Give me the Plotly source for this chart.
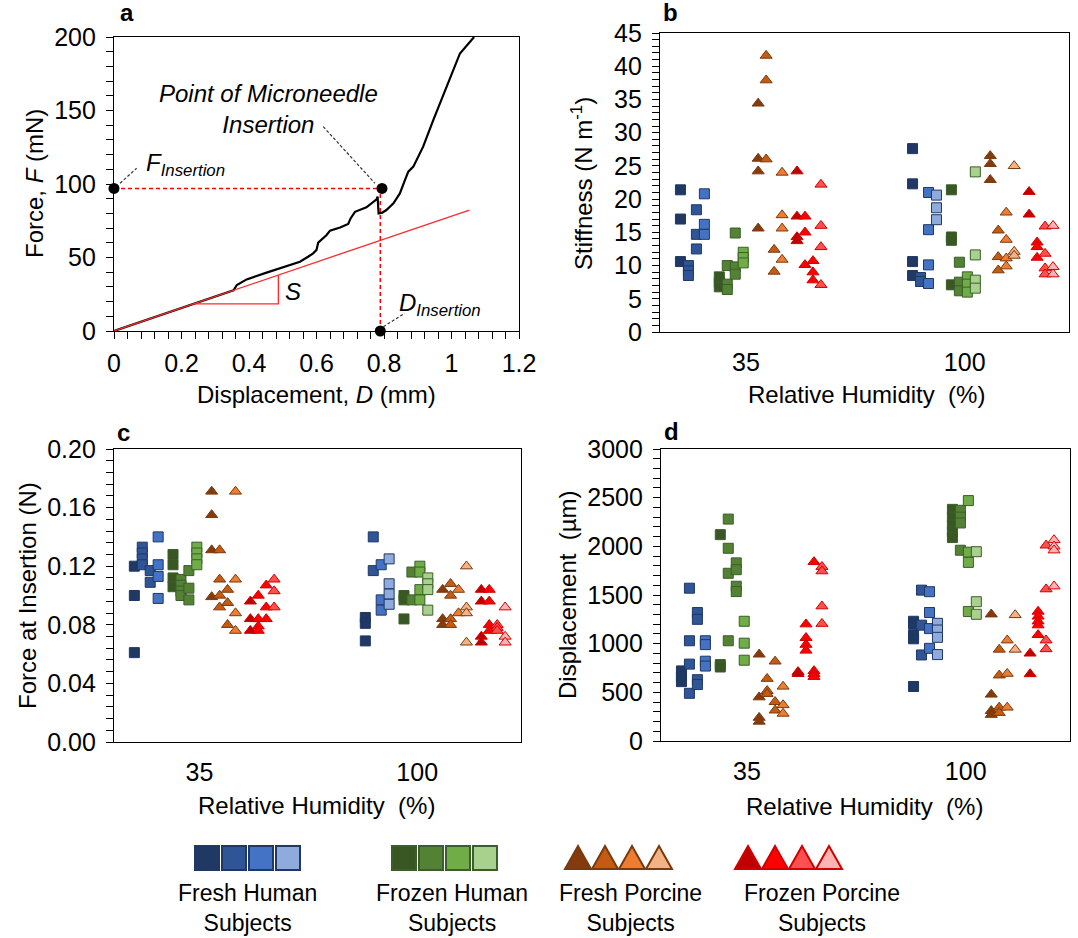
import plotly.graph_objects as go

FONT = "Arial, 'Liberation Sans', sans-serif"
FS = 24

# ---------------- Panel a : force-displacement curve ----------------
CURVE_D = [0.000, 0.354, 0.364, 0.393, 0.452, 0.512, 0.551, 0.575, 0.590, 0.600, 0.605,
           0.630, 0.640, 0.670, 0.694, 0.701, 0.714, 0.748, 0.778, 0.781, 0.784, 0.795,
           0.807, 0.828, 0.847, 0.862, 0.872, 0.887, 0.916, 0.946, 0.986, 1.025, 1.067]
CURVE_F = [0.0, 27.7, 31.3, 35.1, 39.7, 44.2, 47.1, 50.5, 52.8, 55.1, 60.1,
           65.3, 68.3, 70.4, 72.8, 76.6, 81.1, 84.1, 89.6, 91.4, 80.0, 80.5,
           82.3, 86.8, 93.6, 102.7, 108.4, 111.8, 125.4, 143.5, 166.2, 188.8, 200.0]
FIT_D = [0.0, 1.053]
FIT_F = [0.0, 82.3]
SLOPE_TRI_D = [0.235, 0.487, 0.487]
SLOPE_TRI_F = [18.4, 18.4, 38.1]
D_INSERTION = 0.789
F_INSERTION = 97.0

# ---------------- Panels b-d : scatter data ----------------
GROUPS = ["Fresh Human", "Frozen Human", "Fresh Porcine", "Frozen Porcine"]
RH_LABELS = ["35", "100"]

STIFFNESS_35 = {
    "Fresh Human": [[21.4, 17.0, 10.6], [10.0, 9.2, 8.5], [18.4, 14.7, 12.5], [20.8, 16.2, 14.7]],
    "Frozen Human": [[8.3, 7.5, 6.8], [10.0, 7.2, 6.4], [14.9, 9.8, 8.7], [12.0, 11.2, 10.4]],
    "Fresh Porcine": [[34.4, 26.1, 24.2, 15.6], [41.6, 37.9, 26.0], [12.4, 9.1], [24.0, 17.6, 15.6, 10.9]],
    "Frozen Porcine": [[24.2, 17.4, 14.3, 13.7], [17.4, 15.0, 10.1], [10.7, 9.0, 7.8], [22.2, 16.0, 12.8, 7.1]],
}
STIFFNESS_100 = {
    "Fresh Human": [[27.6, 22.3, 10.6, 8.5], [8.2, 7.6], [21.0, 15.4, 10.1, 7.3], [20.6, 18.7, 16.9]],
    "Frozen Human": [[21.4, 14.3, 13.8, 7.1], [10.5, 7.5, 6.2], [8.3, 7.2, 6.0], [24.1, 11.6, 7.8, 6.6]],
    "Fresh Porcine": [[26.5, 25.3, 22.9], [15.3, 11.3, 9.3], [18.0, 13.9, 11.1, 9.9], [25.0, 12.1, 11.5]],
    "Frozen Porcine": [[21.1, 17.7], [13.5, 12.8, 11.2], [15.9, 11.8, 9.6, 8.7], [16.0, 9.8, 8.7]],
}
FORCE_35 = {
    "Fresh Human": [[0.120, 0.100, 0.061], [0.133, 0.129, 0.125, 0.121], [0.117, 0.109], [0.140, 0.121, 0.113, 0.098]],
    "Frozen Human": [[0.128, 0.121, 0.112, 0.106], [0.111, 0.107, 0.103, 0.100], [0.117, 0.105, 0.097], [0.133, 0.129, 0.125, 0.121]],
    "Fresh Porcine": [[0.171, 0.155, 0.131, 0.099], [0.131, 0.111, 0.100, 0.092], [0.104, 0.095, 0.080], [0.171, 0.111, 0.088, 0.076]],
    "Frozen Porcine": [[0.096, 0.084, 0.076], [0.100, 0.084, 0.079, 0.076], [0.107, 0.092, 0.084], [0.111, 0.103, 0.092]],
}
FORCE_100 = {
    "Fresh Human": [[0.085, 0.081, 0.069], [0.140, 0.117], [0.121, 0.097, 0.090], [0.125, 0.108, 0.101, 0.094]],
    "Frozen Human": [[0.100, 0.097, 0.084], [0.116, 0.097], [0.120, 0.116, 0.104, 0.097], [0.112, 0.108, 0.104, 0.090]],
    "Fresh Porcine": [[0.104, 0.084, 0.080], [0.108, 0.100, 0.084, 0.080], [0.104, 0.088], [0.120, 0.092, 0.088, 0.068]],
    "Frozen Porcine": [[0.104, 0.096, 0.072, 0.068], [0.104, 0.096, 0.080, 0.076], [0.080, 0.078, 0.076], [0.092, 0.072, 0.068]],
}
DISP_35 = {
    "Fresh Human": [[720, 660, 610], [1570, 1030, 790, 490], [1320, 1250, 630, 580], [1030, 990, 820, 770]],
    "Frozen Human": [[2120, 785, 760], [2280, 1980, 1723, 1030], [1830, 1760, 1590, 1535], [1230, 1005, 830]],
    "Fresh Porcine": [[890, 450, 240, 200], [640, 515, 485], [818, 402, 315], [560, 370, 282]],
    "Frozen Porcine": [[710, 690], [1200, 1060, 990, 930], [1840, 720, 690, 660], [1790, 1745, 1385, 1205]],
}
DISP_100 = {
    "Fresh Human": [[1230, 1200, 1090, 1050, 560], [1550, 1190, 884], [1534, 1320, 1155, 952], [1209, 1140, 1065, 888]],
    "Frozen Human": [[2380, 2300, 2220, 2150, 2090], [2370, 2300, 2240, 1960], [2470, 1940, 1835, 1330], [1945, 1431, 1302]],
    "Fresh Porcine": [[1302, 478, 310, 270], [940, 675, 345, 290], [1035, 692, 345], [1295, 940]],
    "Frozen Porcine": [[900, 688], [1330, 1280, 1230, 1190, 1090], [2010, 1560, 1035, 945], [2065, 2000, 1960, 1590]],
}

# ---------------- styling ----------------
SYMBOLS = ["square", "square", "triangle-up", "triangle-up"]
FILLS = [["#203864", "#2F5597", "#4472C4", "#8FAADC"],
         ["#385723", "#548235", "#70AD47", "#A9D18E"],
         ["#843C0C", "#C55A11", "#ED7D31", "#F4B183"],
         ["#C00000", "#FF0000", "#FF5050", "#FFB3B3"]]
EDGES = ["#1F3864", "#3B5E2A", "#7A3A10", "#D00000"]
SHADES = [[0, 1, 1, 2], [0, 1, 2, 3]]          # colour index of each subject column, per RH
BASE = [0.10, 1.235]                          # position of first column in each RH group
GROUP_STEP = 0.19
SUBJ_STEP = 0.039
TICK_POS = [0.42, 1.49]

W, H = 1078, 938


def px(x):
    return x / W


def py(y):
    return 1 - y / H


fig = go.Figure()

# ---- panel a ----
fig.add_trace(go.Scatter(x=[0, D_INSERTION], y=[F_INSERTION, F_INSERTION], mode="lines",
                         line=dict(color="#FF0000", width=1.5, dash="4px,3px"),
                         xaxis="x", yaxis="y", showlegend=False, hoverinfo="skip"))
fig.add_trace(go.Scatter(x=[D_INSERTION, D_INSERTION], y=[0, F_INSERTION], mode="lines",
                         line=dict(color="#FF0000", width=1.5, dash="4px,3px"),
                         xaxis="x", yaxis="y", showlegend=False, hoverinfo="skip"))
fig.add_trace(go.Scatter(x=CURVE_D, y=CURVE_F, mode="lines", line=dict(color="black", width=2.2),
                         xaxis="x", yaxis="y", showlegend=False))
fig.add_trace(go.Scatter(x=FIT_D, y=FIT_F, mode="lines", line=dict(color="#FF2A2A", width=1.3),
                         xaxis="x", yaxis="y", showlegend=False))
fig.add_trace(go.Scatter(x=SLOPE_TRI_D, y=SLOPE_TRI_F, mode="lines", line=dict(color="#FF2A2A", width=1.3),
                         xaxis="x", yaxis="y", showlegend=False))
fig.add_trace(go.Scatter(x=[0, D_INSERTION + 0.005, D_INSERTION], y=[F_INSERTION, F_INSERTION, 0],
                         mode="markers", marker=dict(color="black", size=11),
                         xaxis="x", yaxis="y", showlegend=False, cliponaxis=False))

# ---- panels b-d ----
PANELS = [("x2", "y2", [STIFFNESS_35, STIFFNESS_100]),
          ("x3", "y3", [FORCE_35, FORCE_100]),
          ("x4", "y4", [DISP_35, DISP_100])]
for xa, ya, datasets in PANELS:
    for r, data in enumerate(datasets):
        for g, grp in enumerate(GROUPS):
            xs, ys, cols = [], [], []
            for s, vals in enumerate(data[grp]):
                for v in vals:
                    xs.append(BASE[r] + g * GROUP_STEP + s * SUBJ_STEP)
                    ys.append(v)
                    cols.append(FILLS[g][SHADES[r][s]])
            fig.add_trace(go.Scatter(
                x=xs, y=ys, mode="markers", name=grp,
                marker=dict(symbol=SYMBOLS[g], size=10 if g < 2 else 10.5, color=cols,
                            line=dict(color=EDGES[g], width=1)),
                xaxis=xa, yaxis=ya, showlegend=False, cliponaxis=False))


def yaxis(domain, rng, dtick, minor, anchor, fmt=None):
    d = dict(domain=domain, range=rng, dtick=dtick, tick0=0, ticks="outside", ticklen=7,
             tickwidth=1, tickcolor="black", showline=True, linecolor="black", linewidth=1.2,
             mirror=True, showgrid=False, zeroline=False, anchor=anchor, automargin=False,
             tickfont=dict(family=FONT, size=FS + 1, color="black"), ticklabelstandoff=5,
             minor=dict(dtick=minor, tick0=0, ticks="outside", ticklen=7, tickcolor="black", showgrid=False))
    if fmt:
        d["tickformat"] = fmt
    return d


def cat_xaxis(domain, anchor):
    return dict(domain=domain, range=[0, 2], tickvals=TICK_POS, ticktext=RH_LABELS, ticks="",
                showline=True, linecolor="black", linewidth=1.2, mirror=True, showgrid=False,
                zeroline=False, anchor=anchor, ticklabelstandoff=8, automargin=False,
                tickfont=dict(family=FONT, size=FS + 1, color="black"))


layout = dict(
    width=W, height=H, margin=dict(l=0, r=0, t=0, b=0, pad=0, autoexpand=False),
    autosize=False, showlegend=False,
    paper_bgcolor="white", plot_bgcolor="white", font=dict(family=FONT, color="black"),
    xaxis=dict(domain=[px(114), px(519)], range=[0, 1.2], dtick=0.2, tick0=0, ticks="outside",
               ticklen=7, tickcolor="black", showline=True, linecolor="black", linewidth=1.2,
               mirror=True, showgrid=False, zeroline=False, anchor="y", ticklabelstandoff=3,
               automargin=False,
               tickfont=dict(family=FONT, size=FS + 1, color="black"),
               minor=dict(dtick=0.04, tick0=0, ticks="outside", ticklen=7, tickcolor="black", showgrid=False)),
    yaxis=yaxis([py(331), py(37)], [0, 200], 50, 10, "x"),
    xaxis2=cat_xaxis([px(660), px(1069)], "y2"),
    yaxis2=yaxis([py(332), py(33)], [0, 45], 5, 1, "x2"),
    xaxis3=cat_xaxis([px(114), px(521)], "y3"),
    yaxis3=yaxis([py(742), py(449)], [0, 0.2], 0.04, 0.008, "x3", ".2f"),
    xaxis4=cat_xaxis([px(661), px(1070)], "y4"),
    yaxis4=yaxis([py(741), py(449)], [0, 3000], 500, 100, "x4"),
    xaxis5=dict(domain=[0, 1], range=[0, W], visible=False, anchor="y5"),
    yaxis5=dict(domain=[0, py(825)], range=[0, H - 825], visible=False, anchor="x5"),
)

ann = []


def text(x, y, t, size=FS, angle=0, bold=False, italic=False, xanchor="center", xref="paper", yref="paper"):
    if italic:
        t = "<i>" + t + "</i>"
    if bold:
        t = "<b>" + t + "</b>"
    ann.append(dict(x=x, y=y, xref=xref, yref=yref, text=t, showarrow=False, textangle=angle,
                    xanchor=xanchor, yanchor="middle", font=dict(family=FONT, size=size, color="black")))


# panel letters
text(px(127), py(13), "a", bold=True)
text(px(670), py(13), "b", bold=True)
text(px(123), py(432), "c", bold=True)
text(px(671), py(431), "d", bold=True)

# axis titles
text(px(34), py(184), "Force, <i>F</i> (mN)", angle=-90)
text(px(316), py(394), "Displacement, <i>D</i> (mm)")
text(px(582), py(184), "Stiffness (N m<sup>-1</sup>)", angle=-90)
text(px(866), py(394), "Relative Humidity  (%)")
text(px(27), py(596), "Force at Insertion (N)", angle=-90)
text(px(316), py(805), "Relative Humidity  (%)")
text(px(567), py(595), "Displacement  (µm)", angle=-90)
text(px(864), py(806), "Relative Humidity  (%)")

# panel a annotations (data coordinates)
text(0.457, 151, "Point of Microneedle<br>Insertion", italic=True, xref="x", yref="y")
text(0.088, 113, "<i>F</i><sub><i>Insertion</i></sub>", xanchor="left", xref="x", yref="y")
text(0.838, 18, "<i>D</i><sub><i>Insertion</i></sub>", xanchor="left", xref="x", yref="y")
text(0.531, 26.7, "S", italic=True, xref="x", yref="y")

shapes = []
for (x0, y0, x1, y1) in [(0.018, 100.5, 0.067, 110.7), (0.62, 139, 0.773, 100.5), (0.798, 2.9, 0.861, 12.0)]:
    shapes.append(dict(type="line", xref="x", yref="y", x0=x0, y0=y0, x1=x1, y1=y1,
                       line=dict(color="#333333", width=1.2, dash="3px,2px")))

# custom legend: glyph rows + two-line labels
LEGEND_GLYPH_X = [207, 404, 578, 748]   # left-most glyph centre of each group (px)
LEGEND_TEXT_X = [247, 452, 630, 822]
LEGEND_STEP = 27
GY = H - 858                           # glyph centre height inside legend axis
for g in range(4):
    for s in range(4):
        cx = LEGEND_GLYPH_X[g] + s * LEGEND_STEP
        if g < 2:
            shapes.append(dict(type="rect", xref="x5", yref="y5", x0=cx - 12, x1=cx + 12,
                               y0=GY - 12, y1=GY + 12, fillcolor=FILLS[g][s],
                               line=dict(color=EDGES[g], width=2)))
        else:
            path = f"M {cx - 13} {GY - 11} L {cx + 13} {GY - 11} L {cx} {GY + 12} Z"
            shapes.append(dict(type="path", xref="x5", yref="y5", path=path, fillcolor=FILLS[g][s],
                               line=dict(color=EDGES[g], width=2)))
    text(px(LEGEND_TEXT_X[g]), py(908), GROUPS[g] + "<br>Subjects", size=23)

layout["annotations"] = ann
layout["shapes"] = shapes
fig.update_layout(**layout)
fig.write_html("out.html", config={"responsive": False, "displayModeBar": False},
               post_script="document.body.style.margin='0';document.body.style.overflow='hidden';")
